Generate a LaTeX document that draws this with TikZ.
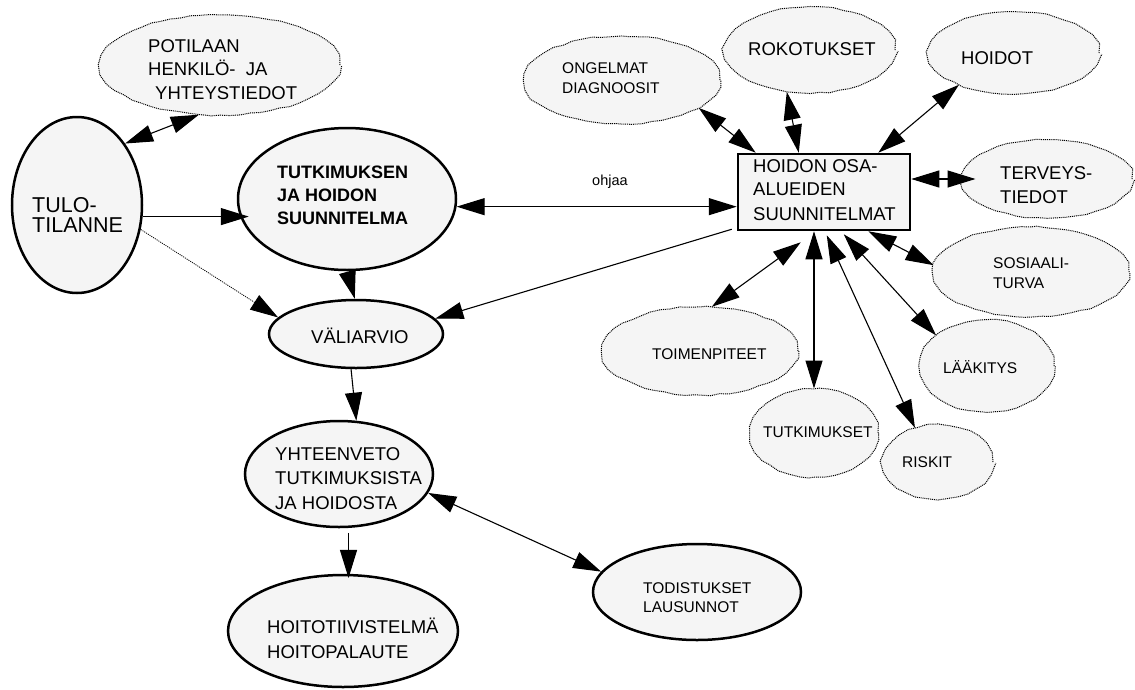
\documentclass[tikz,border=0pt]{standalone}
\usepackage{fontspec}
\setmainfont{Liberation Sans}
\usetikzlibrary{shapes.geometric,arrows.meta,calc,decorations.pathmorphing}

\begin{document}
\begin{tikzpicture}[x=1pt,y=-1pt,
  mainnode/.style={ellipse,draw,line width=2.5pt,fill=black!4,inner sep=0pt},
  dotnode/.style={ellipse,draw,dash pattern=on 1pt off 0.9pt,line width=1pt,fill=black!4,inner sep=0pt,
    decorate,decoration={random steps,segment length=10pt,amplitude=0.8pt}},
  planbox/.style={rectangle,draw,line width=2.5pt,fill=black!4,inner sep=0pt},
  bigtxt/.style={anchor=base west,inner sep=0pt,font=\fontsize{21.5}{24}\selectfont},
  txt/.style={anchor=base west,inner sep=0pt,font=\fontsize{18.5}{22}\selectfont},
  boldtxt/.style={anchor=base west,inner sep=0pt,font=\fontsize{18}{22}\selectfont\bfseries},
  smalltxt/.style={anchor=base west,inner sep=0pt,font=\fontsize{15.5}{19}\selectfont},
  tip/.tip={Triangle[length=28pt,width=17pt]},
  oneway/.style={line width=1.1pt,-tip},
  twoway/.style={line width=1.1pt,tip-tip},
]
\useasboundingbox (0,0) rectangle (1135,689);

% ---- main flow ellipses ----
\node[mainnode,minimum width=130,minimum height=176] (tulo) at (77,205) {};
\node[mainnode,minimum width=218,minimum height=142] (tutk) at (347,199) {};
\node[mainnode,minimum width=174,minimum height=68]  (vali) at (356,334) {};
\node[mainnode,minimum width=188,minimum height=106] (yht)  at (339,474) {};
\node[mainnode,minimum width=230,minimum height=112] (hoito) at (343,631) {};
\node[mainnode,minimum width=208,minimum height=96]  (todist) at (697,592) {};

% ---- plan box ----
\node[planbox,minimum width=172,minimum height=76] (box) at (824,192) {};

% ---- dotted information areas ----
\node[dotnode,minimum width=240,minimum height=100] (pot)    at (220,65) {};
\node[dotnode,minimum width=196,minimum height=88]  (ong)    at (622,80) {};
\node[dotnode,minimum width=170,minimum height=86]  (rok)    at (810,50) {};
\node[dotnode,minimum width=170,minimum height=82]  (hoidot) at (1014,53) {};
\node[dotnode,minimum width=170,minimum height=78]  (terv)   at (1047,179) {};
\node[dotnode,minimum width=196,minimum height=90]  (sos)    at (1031,272) {};
\node[dotnode,minimum width=134,minimum height=92]  (laak)   at (987,366) {};
\node[dotnode,minimum width=110,minimum height=74]  (risk)   at (938,462) {};
\node[dotnode,minimum width=128,minimum height=88]  (tutks)  at (814,433) {};
\node[dotnode,minimum width=196,minimum height=88]  (toim)   at (700,351) {};

% ---- texts ----
\node[txt] (potA) at (148,52) {POTILAAN};
\node[txt] (potB) at (148,75) {HENKILÖ-~~JA};
\node[txt] (potC) at (155,99) {YHTEYSTIEDOT};

\node[bigtxt] (tuloA) at (32,212) {TULO-};
\node[bigtxt] (tuloB) at (32,232) {TILANNE};

\node[boldtxt] (tutkA) at (277,178) {TUTKIMUKSEN};
\node[boldtxt] (tutkB) at (277,201) {JA HOIDON};
\node[boldtxt] (tutkC) at (277,224) {SUUNNITELMA};

\node[txt] (boxA) at (753,172) {HOIDON OSA-};
\node[txt] (boxB) at (753,195) {ALUEIDEN};
\node[txt] (boxC) at (753,220) {SUUNNITELMAT};

\node[anchor=base west,inner sep=0pt,font=\fontsize{14.5}{17}\selectfont] (ohjaa) at (592,185) {ohjaa};

\node[smalltxt] (ongA) at (562,73) {ONGELMAT};
\node[smalltxt] (ongB) at (562,93) {DIAGNOOSIT};
\node[txt] (rokA) at (748,55) {ROKOTUKSET};
\node[txt] (hoidotA) at (961,64) {HOIDOT};
\node[txt] (tervA) at (1000,179) {TERVEYS-};
\node[txt] (tervB) at (1000,203) {TIEDOT};
\node[smalltxt] (sosA) at (993,268) {SOSIAALI-};
\node[smalltxt] (sosB) at (993,288) {TURVA};
\node[smalltxt] (laakA) at (943,373) {LÄÄKITYS};
\node[smalltxt] (riskA) at (902,467) {RISKIT};
\node[smalltxt] (tutksA) at (763,437) {TUTKIMUKSET};
\node[smalltxt] (toimA) at (652,359) {TOIMENPITEET};

\node[txt] (valiA) at (311,343) {VÄLIARVIO};
\node[txt] (yhtA) at (275,460) {YHTEENVETO};
\node[txt] (yhtB) at (275,484) {TUTKIMUKSISTA};
\node[txt] (yhtC) at (275,509) {JA HOIDOSTA};
\node[txt] (hoitoA) at (267,633) {HOITOTIIVISTELMÄ};
\node[txt] (hoitoB) at (267,658) {HOITOPALAUTE};
\node[smalltxt] (todA) at (643,593) {TODISTUKSET};
\node[smalltxt] (todB) at (643,612) {LAUSUNNOT};

% ---- connectors of the main flow ----
\draw[twoway] (tulo.52) -- (pot.-113);
\draw[oneway,shorten >=-12pt] (tulo.-10) -- (tulo.-10 -| tutk.west);
\draw[oneway,densely dotted,line width=0.8pt] (tulo.-21) -- (vali.168);
\draw[oneway] ($(tutk.south)+(1,3)$) -- (vali.92);
\draw[twoway] (tutk.-4) -- (tutk.-4 -| box.west);
\draw[oneway] ($(box.south west)+(-5,-2)$) -- (vali.11);
\draw[oneway] (vali.-98) -- (yht.72);
\draw[oneway] ($(yht.-80)+(0,5)$) -- ($(yht.-80)+(0,50)$);
\draw[twoway] (yht.-12) -- (todist.168);

% ---- connectors of the plan box ----
\draw[twoway] (ong.-20) -- ($(box.north west)+(19,0)$);
\draw[twoway] (rok.-119) -- ($(box.north west)+(62,0)$);
\draw[twoway] (hoidot.210) -- ($(box.north east)+(-33,0)$);
\draw[twoway,shorten >=-14pt] (box.east |- terv.west) -- (terv.west);
\draw[twoway] ($(box.south east)+(-43,0)$) -- (sos.176);
\draw[twoway] ($(box.south west)+(107,3)$) -- (laak.149);
\draw[twoway] ($(box.south west)+(90,4)$) -- (risk.124);
\draw[twoway] (tutks.north |- box.south) -- (tutks.north);
\draw[twoway] (toim.75) -- ($(box.south west)+(64,11)$);
\end{tikzpicture}
\end{document}
